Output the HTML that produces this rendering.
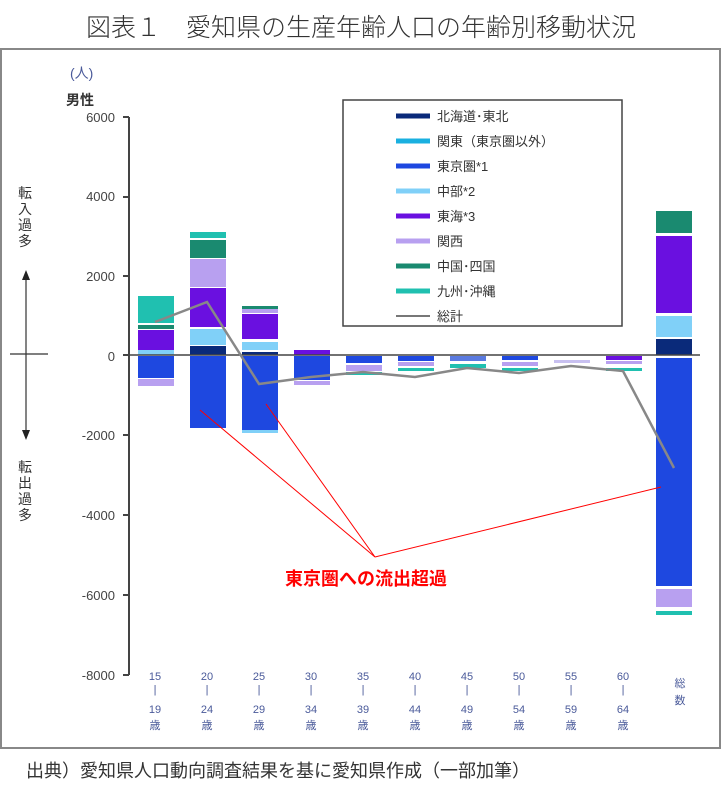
<!DOCTYPE html><html><head><meta charset="utf-8"><style>
body{margin:0;background:#fff;width:722px;height:796px;overflow:hidden;font-family:"Liberation Sans","Noto Sans CJK JP",sans-serif}
</style></head><body>
<svg width="722" height="796" xmlns="http://www.w3.org/2000/svg" font-family="Liberation Sans, Noto Sans CJK JP, sans-serif">
<text x="361" y="36" font-size="25" text-anchor="middle" fill="#333" font-weight="300" font-family="Noto Sans CJK JP, sans-serif">図表１　愛知県の生産年齢人口の年齢別移動状況</text>
<rect x="1" y="49" width="719" height="699" fill="none" stroke="#888" stroke-width="2"/>
<text x="70" y="78" font-size="14" fill="#4a5a9a">(人)</text>
<text x="66" y="105" font-size="14" fill="#333" font-weight="bold">男性</text>
<g font-size="13" fill="#444" text-anchor="end">
<text x="115" y="122">6000</text><text x="115" y="201">4000</text><text x="115" y="281">2000</text><text x="115" y="361">0</text><text x="115" y="440">-2000</text><text x="115" y="520">-4000</text><text x="115" y="600">-6000</text><text x="115" y="680">-8000</text></g>
<g stroke="#444" stroke-width="2"><line x1="129" y1="117" x2="129" y2="675"/>
<line x1="123" y1="117" x2="129" y2="117"/><line x1="123" y1="197" x2="129" y2="197"/><line x1="123" y1="276" x2="129" y2="276"/><line x1="123" y1="355" x2="129" y2="355"/><line x1="123" y1="435" x2="129" y2="435"/><line x1="123" y1="515" x2="129" y2="515"/><line x1="123" y1="595" x2="129" y2="595"/><line x1="123" y1="675" x2="129" y2="675"/></g>
<g font-size="14" fill="#333"><text x="18" y="198">転</text><text x="18" y="214">入</text><text x="18" y="230">過</text><text x="18" y="246">多</text>
<text x="18" y="472">転</text><text x="18" y="488">出</text><text x="18" y="504">過</text><text x="18" y="520">多</text></g>
<line x1="26" y1="278" x2="26" y2="432" stroke="#333" stroke-width="1.2"/><polygon points="26,270 22,280 30,280" fill="#222"/><polygon points="26,440 22,430 30,430" fill="#222"/>
<line x1="10" y1="354" x2="48" y2="354" stroke="#333" stroke-width="1.2"/>
<g>
<rect x="138" y="350" width="36" height="5" fill="#80d0f8"/><rect x="138" y="330" width="36" height="20" fill="#6a10e0"/><rect x="138" y="325" width="36" height="4" fill="#1a8a70"/><rect x="138" y="296" width="36" height="27" fill="#20c0b0"/>
<rect x="138" y="356" width="36" height="22" fill="#1e48e0"/><rect x="138" y="379" width="36" height="7" fill="#b8a0f0"/>
<rect x="190" y="346" width="36" height="9" fill="#0a2a7a"/><rect x="190" y="329" width="36" height="16" fill="#80d0f8"/><rect x="190" y="288" width="36" height="39" fill="#6a10e0"/><rect x="190" y="259" width="36" height="28" fill="#b8a0f0"/><rect x="190" y="240" width="36" height="18" fill="#1a8a70"/><rect x="190" y="232" width="36" height="6" fill="#20c0b0"/>
<rect x="190" y="356" width="36" height="72" fill="#1e48e0"/>
<rect x="242" y="352" width="36" height="3" fill="#0a2a7a"/><rect x="242" y="342" width="36" height="8" fill="#80d0f8"/><rect x="242" y="314" width="36" height="25" fill="#6a10e0"/><rect x="242" y="309" width="36" height="4" fill="#b8a0f0"/><rect x="242" y="306" width="36" height="3" fill="#1a8a70"/>
<rect x="242" y="356" width="36" height="74" fill="#1e48e0"/><rect x="242" y="430" width="36" height="3" fill="#80d0f8"/>
<rect x="294" y="350" width="36" height="5" fill="#6a10e0"/><rect x="294" y="356" width="36" height="24" fill="#1e48e0"/><rect x="294" y="381" width="36" height="4" fill="#b8a0f0"/>
<rect x="346" y="356" width="36" height="7" fill="#1e48e0"/><rect x="346" y="365" width="36" height="6" fill="#b8a0f0"/><rect x="346" y="372" width="36" height="3" fill="#20c0b0"/>
<rect x="398" y="356" width="36" height="5" fill="#1e48e0"/><rect x="398" y="362" width="36" height="4" fill="#b8a0f0"/><rect x="398" y="368" width="36" height="3" fill="#20c0b0"/>
<rect x="450" y="356" width="36" height="5" fill="#5a7ae0"/><rect x="450" y="364" width="36" height="4" fill="#20c0b0"/>
<rect x="502" y="356" width="36" height="4" fill="#1e48e0"/><rect x="502" y="362" width="36" height="4" fill="#b8a0f0"/><rect x="502" y="368" width="36" height="3" fill="#20c0b0"/>
<rect x="554" y="360" width="36" height="3" fill="#c8c0f0"/>
<rect x="606" y="356" width="36" height="4" fill="#6a10e0"/><rect x="606" y="361" width="36" height="3" fill="#b8a0f0"/><rect x="606" y="368" width="36" height="3" fill="#20c0b0"/>
<rect x="656" y="339" width="36" height="16" fill="#0a2a7a"/><rect x="656" y="316" width="36" height="21" fill="#80d0f8"/><rect x="656" y="236" width="36" height="77" fill="#6a10e0"/><rect x="656" y="211" width="36" height="22" fill="#1a8a70"/>
<rect x="656" y="358" width="36" height="228" fill="#1e48e0"/><rect x="656" y="589" width="36" height="18" fill="#b8a0f0"/><rect x="656" y="611" width="36" height="4" fill="#20c0b0"/>
</g>
<line x1="129" y1="355" x2="700" y2="355" stroke="#444" stroke-width="1.5"/>
<polyline points="155,322 207,302 259,384 311,377 363,372 415,377 467,368 519,373 571,366 623,371 674,468" fill="none" stroke="#888" stroke-width="2.5"/>
<rect x="343" y="100" width="279" height="226" fill="#fff" stroke="#444" stroke-width="1.5"/>
<g stroke-width="5">
<line x1="396" y1="116" x2="430" y2="116" stroke="#0a2a7a"/><line x1="396" y1="141" x2="430" y2="141" stroke="#1ab0e0"/><line x1="396" y1="166" x2="430" y2="166" stroke="#1e48e0"/><line x1="396" y1="191" x2="430" y2="191" stroke="#80d0f8"/><line x1="396" y1="216" x2="430" y2="216" stroke="#6a10e0"/><line x1="396" y1="241" x2="430" y2="241" stroke="#b8a0f0"/><line x1="396" y1="266" x2="430" y2="266" stroke="#1a8a70"/><line x1="396" y1="291" x2="430" y2="291" stroke="#20c0b0"/><line x1="396" y1="316" x2="430" y2="316" stroke="#777" stroke-width="2"/></g>
<g font-size="13" fill="#333"><text x="437" y="121">北海道･東北</text><text x="437" y="146">関東（東京圏以外）</text><text x="437" y="171">東京圏*1</text><text x="437" y="196">中部*2</text><text x="437" y="221">東海*3</text><text x="437" y="246">関西</text><text x="437" y="271">中国･四国</text><text x="437" y="296">九州･沖縄</text><text x="437" y="321">総計</text></g>
<g stroke="#f00" stroke-width="1"><line x1="375" y1="557" x2="200" y2="410"/><line x1="375" y1="557" x2="266" y2="404"/><line x1="375" y1="557" x2="661" y2="487"/></g>
<text x="366" y="585" font-size="18" font-weight="bold" fill="#f00" text-anchor="middle">東京圏への流出超過</text>
<g font-size="11" fill="#4a5a9a" text-anchor="middle">
<g transform="translate(155,0)"><text y="680">15</text><text y="693">|</text><text y="713">19</text><text y="729">歳</text></g>
<g transform="translate(207,0)"><text y="680">20</text><text y="693">|</text><text y="713">24</text><text y="729">歳</text></g>
<g transform="translate(259,0)"><text y="680">25</text><text y="693">|</text><text y="713">29</text><text y="729">歳</text></g>
<g transform="translate(311,0)"><text y="680">30</text><text y="693">|</text><text y="713">34</text><text y="729">歳</text></g>
<g transform="translate(363,0)"><text y="680">35</text><text y="693">|</text><text y="713">39</text><text y="729">歳</text></g>
<g transform="translate(415,0)"><text y="680">40</text><text y="693">|</text><text y="713">44</text><text y="729">歳</text></g>
<g transform="translate(467,0)"><text y="680">45</text><text y="693">|</text><text y="713">49</text><text y="729">歳</text></g>
<g transform="translate(519,0)"><text y="680">50</text><text y="693">|</text><text y="713">54</text><text y="729">歳</text></g>
<g transform="translate(571,0)"><text y="680">55</text><text y="693">|</text><text y="713">59</text><text y="729">歳</text></g>
<g transform="translate(623,0)"><text y="680">60</text><text y="693">|</text><text y="713">64</text><text y="729">歳</text></g>
<g transform="translate(680,0)"><text y="687">総</text><text y="704">数</text></g>
</g>
<text x="26" y="777" font-size="18" fill="#333">出典）愛知県人口動向調査結果を基に愛知県作成（一部加筆）</text>
</svg>
</body></html>
